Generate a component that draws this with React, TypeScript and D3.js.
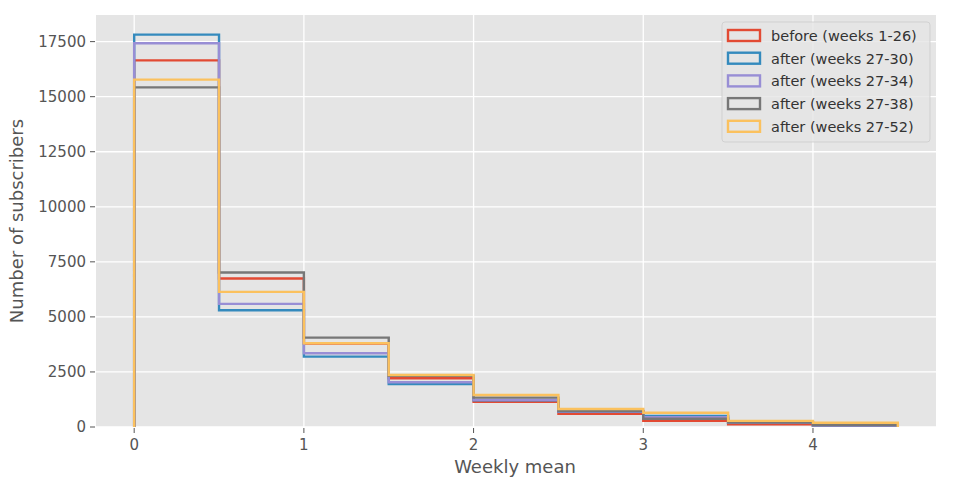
import React from "react";
import * as d3 from "d3";

const binEdges = [0, 0.5, 1, 1.5, 2, 2.5, 3, 3.5, 4, 4.5];
const seriesNames = [
  "before (weeks 1-26)",
  "after (weeks 27-30)",
  "after (weeks 27-34)",
  "after (weeks 27-38)",
  "after (weeks 27-52)",
];
const before1_26 = [16650, 6741, 3790, 2214, 1150, 605, 286, 120, 60];
const after27_30 = [17818, 5303, 3195, 1955, 1210, 690, 500, 190, 70];
const after27_34 = [17423, 5591, 3350, 2032, 1227, 700, 450, 190, 70];
const after27_38 = [15423, 7014, 4060, 2330, 1332, 727, 377, 200, 90];
const after27_52 = [15773, 6136, 3805, 2364, 1455, 818, 650, 280, 190];
const seriesValues = [before1_26, after27_30, after27_34, after27_38, after27_52];
const colors = ["#E24A33", "#348ABD", "#988ED5", "#777777", "#FBC15E"];
const xTicks = [0, 1, 2, 3, 4];
const yTicks = [0, 2500, 5000, 7500, 10000, 12500, 15000, 17500];

const W = 956;
const H = 499;
const left = 96;
const right = 936;
const top = 15;
const bottom = 427;

export default function App() {
  const x = d3.scaleLinear().domain([-0.225, 4.725]).range([left, right]);
  const yMax = d3.max(seriesValues.flat()) as number;
  const y = d3.scaleLinear().domain([0, yMax * 1.05]).range([bottom, top]);
  const line = d3
    .line<[number, number]>()
    .x((d) => x(d[0]))
    .y((d) => y(d[1]));

  const paths = seriesValues.map((vals) => {
    const pts: [number, number][] = [[binEdges[0], 0]];
    vals.forEach((v, i) => {
      pts.push([binEdges[i], v]);
      pts.push([binEdges[i + 1], v]);
    });
    pts.push([binEdges[binEdges.length - 1], 0]);
    return line(pts) as string;
  });

  const font = "DejaVu Sans, sans-serif";
  const legX = 722;
  const legY = 22;
  const rowH = 22.7;

  return (
    <svg
      width={W}
      height={H}
      style={{ position: "absolute", left: 0, top: 0, background: "#fff" }}
      fontFamily={font}
    >
      <rect x={0} y={0} width={W} height={H} fill="#fff" />
      <rect x={left} y={top} width={right - left} height={bottom - top} fill="#E5E5E5" />
      {yTicks.map((t) => (
        <line key={"gy" + t} x1={left} x2={right} y1={y(t)} y2={y(t)} stroke="#fff" strokeWidth={1.3} />
      ))}
      {xTicks.map((t) => (
        <line key={"gx" + t} x1={x(t)} x2={x(t)} y1={top} y2={bottom} stroke="#fff" strokeWidth={1.3} />
      ))}
      {yTicks.map((t) => (
        <g key={"ty" + t}>
          <line x1={left - 6} x2={left - 1} y1={y(t)} y2={y(t)} stroke="#555" strokeWidth={1} />
          <text x={left - 10} y={y(t)} dy="0.35em" textAnchor="end" fontSize={15} fill="#555">
            {t}
          </text>
        </g>
      ))}
      {xTicks.map((t) => (
        <g key={"tx" + t}>
          <line x1={x(t)} x2={x(t)} y1={bottom + 1} y2={bottom + 6} stroke="#555" strokeWidth={1} />
          <text x={x(t)} y={bottom + 18} dy="0.35em" textAnchor="middle" fontSize={15} fill="#555">
            {t}
          </text>
        </g>
      ))}
      {paths.map((d, i) => (
        <path key={"p" + i} d={d} fill="none" stroke={colors[i]} strokeWidth={2.4} strokeLinejoin="miter" />
      ))}
      <text x={(left + right) / 2 - 1} y={467} dy="0.35em" textAnchor="middle" fontSize={18} fill="#555">
        Weekly mean
      </text>
      <text
        transform={`translate(17,${(top + bottom) / 2}) rotate(-90)`}
        dy="0.35em"
        textAnchor="middle"
        fontSize={18}
        fill="#555"
      >
        Number of subscribers
      </text>
      <rect
        x={legX}
        y={legY}
        width={208}
        height={120}
        rx={3}
        fill="#E5E5E5"
        fillOpacity={0.8}
        stroke="#cccccc"
        strokeOpacity={0.8}
      />
      {seriesNames.map((name, i) => (
        <g key={"l" + i}>
          <rect
            x={legX + 6}
            y={legY + 8 + i * rowH}
            width={32}
            height={11}
            fill="none"
            stroke={colors[i]}
            strokeWidth={2.4}
          />
          <text x={legX + 49} y={legY + 14 + i * rowH} dy="0.35em" fontSize={14.5} fill="#333">
            {name}
          </text>
        </g>
      ))}
    </svg>
  );
}
